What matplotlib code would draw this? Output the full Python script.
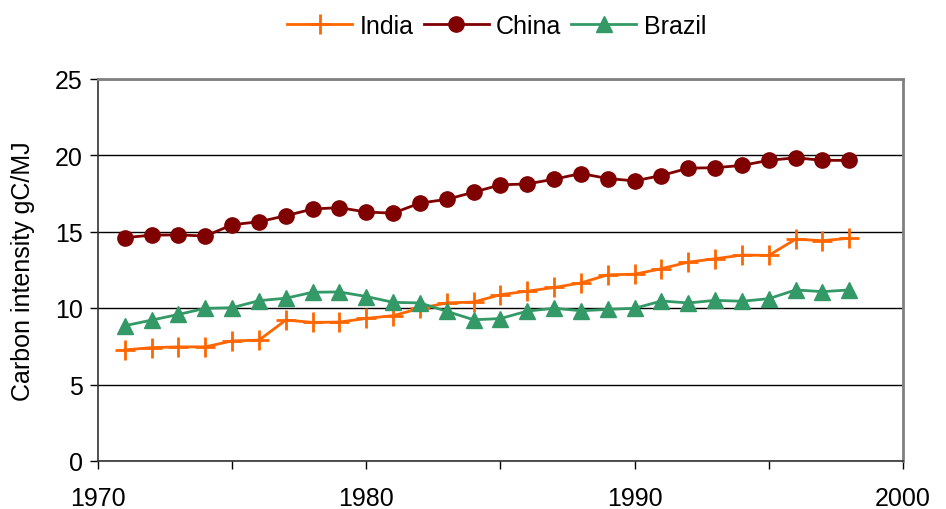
import matplotlib
matplotlib.use("Agg")
import matplotlib.pyplot as plt

plt.rcParams['font.family'] = ['Liberation Sans', 'DejaVu Sans']

years = list(range(1971, 1999))
india = [7.26, 7.41, 7.46, 7.46, 7.85, 7.9, 9.21, 9.06, 9.08, 9.32, 9.5, 9.98, 10.33, 10.39,
         10.87, 11.1, 11.34, 11.64, 12.17, 12.21, 12.57, 13.0, 13.22, 13.46, 13.44, 14.5, 14.4, 14.56]
china = [14.6, 14.76, 14.78, 14.7, 15.44, 15.64, 16.03, 16.47, 16.56, 16.27, 16.2, 16.86, 17.1, 17.57,
         18.05, 18.11, 18.42, 18.79, 18.46, 18.31, 18.66, 19.14, 19.17, 19.32, 19.65, 19.82, 19.65, 19.65]
brazil = [8.84, 9.21, 9.58, 9.98, 10.02, 10.48, 10.64, 11.03, 11.05, 10.75, 10.37, 10.33, 9.78, 9.23,
          9.31, 9.8, 9.98, 9.82, 9.91, 9.98, 10.46, 10.33, 10.5, 10.44, 10.61, 11.18, 11.07, 11.18]

fig = plt.figure(figsize=(9.46, 5.10), dpi=100)
ax = fig.add_axes([98/946, 48/510, 805/946, 382.5/510])

ax.plot(years, india, color='#FF6600', lw=2, marker='+', ms=14, mew=2, label='India')
ax.plot(years, china, color='#800000', lw=2, marker='o', ms=11, label='China')
ax.plot(years, brazil, color='#339966', lw=2, marker='^', ms=12, label='Brazil')

ax.set_xlim(1970, 2000)
ax.set_ylim(0, 25)
ax.set_yticks([0, 5, 10, 15, 20, 25])
ax.set_xticks([1970, 1980, 1990, 2000])
ax.set_xticks([1975, 1985, 1995], minor=True)
ax.tick_params(axis='both', which='both', direction='out', length=6, width=1, color='black',
               labelsize=18)
ax.tick_params(axis='x', which='major', pad=12)
ax.tick_params(axis='y', pad=5)
ax.grid(axis='y', color='black', lw=1)
ax.set_axisbelow(True)
for s in ['top', 'right']:
    ax.spines[s].set_color('#808080')
    ax.spines[s].set_linewidth(2)
for s in ['left', 'bottom']:
    ax.spines[s].set_color('#333333')
    ax.spines[s].set_linewidth(1.2)

ax.set_ylabel('Carbon intensity gC/MJ', fontsize=18, labelpad=14)

fig.legend(loc='upper center', bbox_to_anchor=(0.525, 1.015), ncol=3, frameon=False,
           fontsize=18, handlelength=2.6, columnspacing=0.4, handletextpad=0.3)

fig.savefig('out.png', dpi=100)
